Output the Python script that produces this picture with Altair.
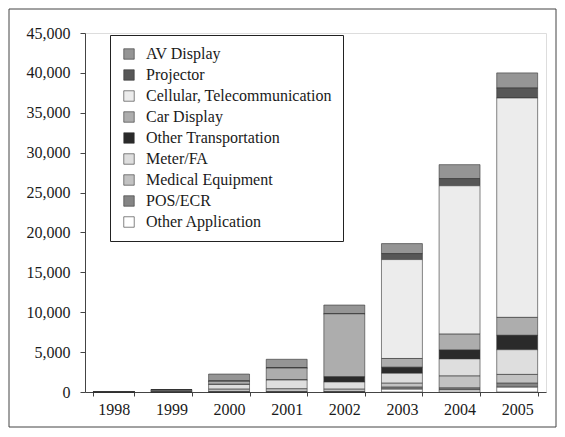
import altair as alt
import pandas as pd

years = ["1998", "1999", "2000", "2001", "2002", "2003", "2004", "2005"]
series = ["AV Display", "Projector", "Cellular, Telecommunication", "Car Display",
          "Other Transportation", "Meter/FA", "Medical Equipment", "POS/ECR",
          "Other Application"]
av_display = [0, 50, 900, 1100, 1100, 1250, 1750, 1900]
projector = [0, 0, 0, 0, 0, 750, 900, 1250]
cellular = [0, 0, 0, 0, 0, 12400, 18600, 27500]
car_display = [0, 0, 400, 1500, 7900, 1100, 2000, 2250]
other_transport = [0, 0, 0, 0, 650, 750, 1100, 1800]
meter_fa = [0, 100, 600, 1100, 900, 1250, 2150, 3100]
medical = [50, 150, 350, 400, 350, 500, 1500, 1100]
pos_ecr = [0, 0, 0, 0, 0, 250, 250, 500]
other_app = [0, 0, 0, 0, 0, 350, 250, 600]
colors = ["#959595", "#575757", "#ececec", "#adadad", "#2a2a2a",
          "#dedede", "#c2c2c2", "#858585", "#ffffff"]

values = [av_display, projector, cellular, car_display, other_transport,
          meter_fa, medical, pos_ecr, other_app]
rows = []
for si, (name, vals) in enumerate(zip(series, values)):
    for y, v in zip(years, vals):
        rows.append({"year": y, "series": name, "value": v,
                     "order": len(series) - si})
df = pd.DataFrame(rows)

W, H = 461, 359
FONT = "Liberation Serif"

bars = alt.Chart(df).mark_bar(stroke="#333333", strokeWidth=0.6).encode(
    x=alt.X("year:N", sort=years, title=None,
            scale=alt.Scale(paddingInner=0.29, paddingOuter=0.145),
            axis=alt.Axis(labelAngle=0, tickBand="extent", tickSize=4,
                          labelPadding=5, labelFont=FONT, labelFontSize=16,
                          labelColor="#1a1a1a", domainColor="#444444",
                          tickColor="#444444")),
    y=alt.Y("value:Q", stack="zero", title=None,
            scale=alt.Scale(domain=[0, 45000], nice=False),
            axis=alt.Axis(values=list(range(0, 45001, 5000)), format=",.0f",
                          grid=False, tickSize=5, labelPadding=10,
                          labelFont=FONT, labelFontSize=16,
                          labelColor="#1a1a1a", domainColor="#444444",
                          tickColor="#444444")),
    color=alt.Color("series:N", scale=alt.Scale(domain=series, range=colors),
                    title=None,
                    legend=alt.Legend(orient="none", legendX=25, legendY=2,
                                      strokeColor="#222222", fillColor="white",
                                      padding=11, labelFont=FONT,
                                      labelFontSize=16, labelColor="#1a1a1a",
                                      symbolType="square", symbolSize=110,
                                      symbolStrokeColor="#333333",
                                      symbolStrokeWidth=0.6, labelOffset=9,
                                      rowPadding=5, labelLimit=400)),
    order=alt.Order("order:Q", sort="ascending"),
)

frame = alt.Chart(pd.DataFrame({"a": [0]})).mark_rect(
    fill="transparent", stroke="#444444", strokeWidth=1
).encode(
    x=alt.value(-76), x2=alt.value(471), y=alt.value(-24), y2=alt.value(394)
)

chart = alt.layer(frame, bars).properties(
    width=W, height=H,
    autosize=alt.AutoSizeParams(type="none"),
    padding={"left": 77, "top": 25, "right": 11, "bottom": 37},
).configure_view(strokeWidth=0).configure(background="white")

chart.save("out.html", embed_options={"renderer": "svg", "actions": False})
